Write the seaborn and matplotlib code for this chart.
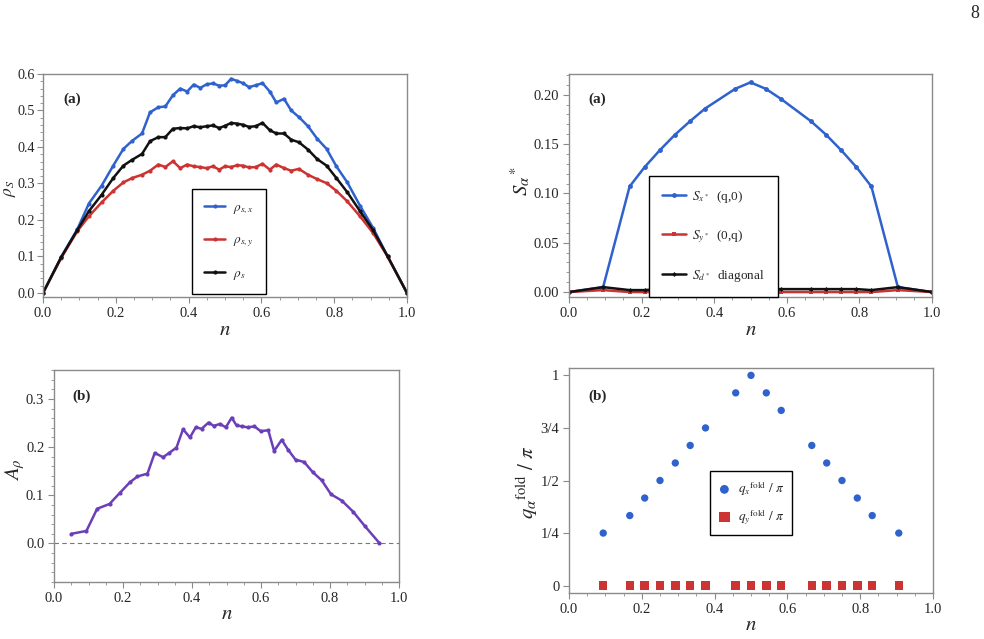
import numpy as np
import pandas as pd
import matplotlib
matplotlib.use("Agg")
import matplotlib.pyplot as plt
import seaborn as sns
from matplotlib.ticker import AutoMinorLocator, FixedLocator

# ---- data ----
# panel (a) left: superfluid stiffness vs filling
n_rho = [0.0, 0.05, 0.094, 0.126, 0.161, 0.193, 0.221, 0.245, 0.272, 0.294, 0.317,
         0.336, 0.357, 0.377, 0.396, 0.414, 0.432, 0.45, 0.467, 0.484, 0.5,
         0.517, 0.533, 0.549, 0.566, 0.584, 0.603, 0.623, 0.641, 0.662, 0.682,
         0.703, 0.728, 0.753, 0.779, 0.806, 0.836, 0.871, 0.907, 0.947, 1.0]
rho_x = [0.0, 0.099, 0.174, 0.245, 0.294, 0.349, 0.395, 0.417, 0.437, 0.495, 0.509,
         0.511, 0.542, 0.560, 0.552, 0.571, 0.562, 0.572, 0.574, 0.568, 0.569,
         0.587, 0.581, 0.575, 0.564, 0.569, 0.575, 0.552, 0.522, 0.532, 0.500,
         0.482, 0.457, 0.423, 0.395, 0.347, 0.303, 0.239, 0.178, 0.100, 0.0]
rho_y = [0.0, 0.096, 0.169, 0.210, 0.248, 0.280, 0.303, 0.315, 0.324, 0.335, 0.352,
         0.345, 0.361, 0.342, 0.352, 0.347, 0.345, 0.342, 0.347, 0.338, 0.347,
         0.345, 0.350, 0.349, 0.344, 0.345, 0.354, 0.338, 0.352, 0.342, 0.335,
         0.340, 0.324, 0.312, 0.301, 0.280, 0.251, 0.210, 0.164, 0.099, 0.0]
rho_s = [0.0, 0.098, 0.172, 0.224, 0.269, 0.315, 0.349, 0.365, 0.381, 0.416, 0.427,
         0.427, 0.450, 0.452, 0.451, 0.457, 0.454, 0.457, 0.459, 0.452, 0.458,
         0.466, 0.464, 0.461, 0.455, 0.457, 0.466, 0.446, 0.437, 0.437, 0.420,
         0.413, 0.393, 0.367, 0.349, 0.315, 0.276, 0.224, 0.172, 0.100, 0.0]

# panel (b) left: anisotropy
n_aniso = [0.05, 0.094, 0.125, 0.161, 0.191, 0.220, 0.242, 0.271, 0.292, 0.316,
           0.334, 0.355, 0.374, 0.394, 0.411, 0.428, 0.448, 0.463, 0.481, 0.498,
           0.515, 0.529, 0.545, 0.562, 0.581, 0.599, 0.621, 0.638, 0.660, 0.679,
           0.700, 0.725, 0.750, 0.776, 0.803, 0.834, 0.867, 0.901, 0.943]
a_rho = [0.020, 0.026, 0.072, 0.082, 0.105, 0.127, 0.139, 0.145, 0.188, 0.179,
         0.188, 0.199, 0.237, 0.220, 0.241, 0.238, 0.251, 0.244, 0.248, 0.241,
         0.261, 0.245, 0.243, 0.241, 0.243, 0.233, 0.235, 0.192, 0.215, 0.194,
         0.174, 0.169, 0.148, 0.131, 0.102, 0.089, 0.066, 0.036, 0.001]

# panel (a) right: structure factor peaks
n_sf = [0.0, 0.094, 0.167, 0.208, 0.25, 0.292, 0.333, 0.375, 0.458, 0.5, 0.542,
        0.583, 0.667, 0.708, 0.75, 0.792, 0.833, 0.906, 1.0]
s_x = [0.0, 0.005, 0.107, 0.1265, 0.1437, 0.1595, 0.173, 0.186, 0.206, 0.2125,
       0.206, 0.196, 0.173, 0.1595, 0.1437, 0.1265, 0.107, 0.005, 0.0]
s_y = [0.0, 0.002, 0.0, 0.0, 0.0, 0.0, 0.0, 0.0, 0.0, 0.0,
       0.0, 0.0, 0.0, 0.0, 0.0, 0.0, 0.0, 0.002, 0.0]
s_d = [0.0, 0.005, 0.002, 0.002, 0.003, 0.003, 0.003, 0.003, 0.003, 0.003,
       0.003, 0.003, 0.003, 0.003, 0.003, 0.003, 0.002, 0.005, 0.0]

# panel (b) right: folding wave vector
n_q = [0.094, 0.167, 0.208, 0.25, 0.292, 0.333, 0.375, 0.458, 0.5, 0.542,
       0.583, 0.667, 0.708, 0.75, 0.792, 0.833, 0.906]
q_x = [0.25, 0.3333, 0.4167, 0.5, 0.5833, 0.6667, 0.75, 0.9167, 1.0, 0.9167,
       0.8333, 0.6667, 0.5833, 0.5, 0.4167, 0.3333, 0.25]
q_y = [0.0] * 17
q_ticks = [0, 0.25, 0.5, 0.75, 1]
q_tick_labels = ["0", "1/4", "1/2", "3/4", "1"]

BLUE = "#2f62cc"
RED = "#cc3333"
BLACK = "#111111"
PURPLE = "#6b3fb8"
FRAME = "#8a8a8a"

sns.set_style("ticks")
plt.rcParams["font.family"] = ["Liberation Serif", "DejaVu Serif"]
plt.rcParams["mathtext.fontset"] = "stix"
plt.rcParams["font.size"] = 11

fig = plt.figure(figsize=(9.84, 6.39), dpi=100)
W, H = 984, 639


def make_ax(l, t, r, b):
    return fig.add_axes([l / W, 1 - b / H, (r - l) / W, (b - t) / H])


def style(ax, xminor=4, yminor=5, xpad=1):
    for s in ax.spines.values():
        s.set_color(FRAME)
        s.set_linewidth(1.0)
    ax.tick_params(which="both", direction="out", color=FRAME, labelsize=10.5,
                   top=False, right=False, pad=3)
    ax.tick_params(which="major", length=4)
    ax.tick_params(which="minor", length=2)
    ax.xaxis.set_minor_locator(AutoMinorLocator(xminor))
    if yminor:
        ax.yaxis.set_minor_locator(AutoMinorLocator(yminor))
    ax.set_xlim(0, 1)
    ax.set_xticks([0, 0.2, 0.4, 0.6, 0.8, 1.0])
    ax.set_xticklabels(["0.0", "0.2", "0.4", "0.6", "0.8", "1.0"])
    ax.set_xlabel(r"$n$", fontsize=15, labelpad=xpad)


def legend(ax, anchor, spacing, **kw):
    lg = ax.legend(loc="lower left", bbox_to_anchor=anchor, frameon=True,
                   fancybox=False, edgecolor="black", framealpha=1,
                   labelspacing=spacing, fontsize=9.5, **kw)
    lg.get_frame().set_linewidth(1.0)
    return lg


# ---- top left ----
ax1 = make_ax(43, 74, 407, 297)
df1 = pd.DataFrame({"n": n_rho, "rx": rho_x, "ry": rho_y, "rs": rho_s})
sns.lineplot(data=df1, x="n", y="rx", ax=ax1, color=BLUE, lw=1.8, marker="o",
             markersize=3, markeredgewidth=0, label=r"$\rho_{s,x}$")
sns.lineplot(data=df1, x="n", y="ry", ax=ax1, color=RED, lw=1.8, marker="o",
             markersize=3, markeredgewidth=0, label=r"$\rho_{s,y}$")
sns.lineplot(data=df1, x="n", y="rs", ax=ax1, color=BLACK, lw=1.8, marker="o",
             markersize=3, markeredgewidth=0, label=r"$\rho_s$")
style(ax1)
ax1.tick_params(axis="y", which="both", labelsize=10.2, pad=2)
ax1.set_ylim(-0.011, 0.6)
ax1.set_yticks(np.arange(0, 0.61, 0.1))
ax1.set_yticklabels(["0.0", "0.1", "0.2", "0.3", "0.4", "0.5", "0.6"])
ax1.set_ylabel(r"$\rho_S$", fontsize=12.5)
ax1.yaxis.set_label_coords(-0.068, 0.49)
ax1.text(0.055, 0.87, "(a)", transform=ax1.transAxes, fontweight="bold", fontsize=11)
legend(ax1, (0.41, 0.015), 1.4, handlelength=1.6, handletextpad=0.6,
       borderpad=0.9, borderaxespad=0)

# ---- top right ----
ax2 = make_ax(569, 74, 932, 297)
df2 = pd.DataFrame({"n": n_sf, "sx": s_x, "sy": s_y, "sd": s_d})
sns.lineplot(data=df2, x="n", y="sx", ax=ax2, color=BLUE, lw=1.8, marker="o",
             markersize=3.5, markeredgewidth=0, label=r"$S_{x^*}$  (q,0)")
sns.lineplot(data=df2, x="n", y="sy", ax=ax2, color=RED, lw=1.8, marker="s",
             markersize=3, markeredgewidth=0, label=r"$S_{y^*}$  (0,q)")
sns.lineplot(data=df2, x="n", y="sd", ax=ax2, color=BLACK, lw=1.8, marker="D",
             markersize=2.5, markeredgewidth=0, label=r"$S_{d^*}$  diagonal")
style(ax2)
ax2.set_ylim(-0.005, 0.221)
ax2.set_yticks([0, 0.05, 0.10, 0.15, 0.20])
ax2.set_yticklabels(["0.00", "0.05", "0.10", "0.15", "0.20"])
ax2.set_ylabel(r"$S_\alpha{}^*$", fontsize=15)
ax2.yaxis.set_label_coords(-0.1, 0.52)
ax2.text(0.052, 0.87, "(a)", transform=ax2.transAxes, fontweight="bold", fontsize=11)
legend(ax2, (0.22, 0.0), 1.75, handlelength=1.8, handletextpad=0.5,
       borderpad=1.0, borderaxespad=0)

# ---- bottom left ----
ax3 = make_ax(54, 370, 399, 582)
df3 = pd.DataFrame({"n": n_aniso, "a": a_rho})
ax3.axhline(0, color="#777777", lw=0.8, ls=(0, (4, 3)))
sns.lineplot(data=df3, x="n", y="a", ax=ax3, color=PURPLE, lw=1.8, marker="o",
             markersize=3, markeredgewidth=0)
style(ax3, xpad=0)
ax3.set_ylim(-0.08, 0.36)
ax3.set_yticks([0, 0.1, 0.2, 0.3])
ax3.set_yticklabels(["0.0", "0.1", "0.2", "0.3"])
ax3.set_ylabel(r"$A_\rho$", fontsize=15)
ax3.yaxis.set_label_coords(-0.078, 0.53)
ax3.text(0.052, 0.86, "(b)", transform=ax3.transAxes, fontweight="bold", fontsize=11)

# ---- bottom right ----
ax4 = make_ax(569, 368, 933, 593)
df4 = pd.DataFrame({"n": n_q, "qx": q_x, "qy": q_y})
sns.scatterplot(data=df4, x="n", y="qx", ax=ax4, color=BLUE, s=28, marker="o",
                edgecolor="none", label=r"$q_x{}^{\mathrm{fold}}\ /\ \pi$", zorder=3)
sns.scatterplot(data=df4, x="n", y="qy", ax=ax4, color=RED, s=38, marker="s",
                edgecolor="none", label=r"$q_y{}^{\mathrm{fold}}\ /\ \pi$", zorder=3)
style(ax4, yminor=0, xpad=0)
ax4.set_ylim(-0.035, 1.035)
ax4.yaxis.set_major_locator(FixedLocator(q_ticks))
ax4.set_yticklabels(q_tick_labels)
ax4.set_ylabel(r"$q_\alpha{}^{\mathrm{fold}}\ /\ \pi$", fontsize=15)
ax4.yaxis.set_label_coords(-0.08, 0.49)
ax4.text(0.052, 0.86, "(b)", transform=ax4.transAxes, fontweight="bold", fontsize=11)
legend(ax4, (0.387, 0.26), 0.7, handlelength=1.0, handletextpad=0.5,
       borderpad=0.6, borderaxespad=0, markerscale=1.2)

fig.text(970 / W, 1 - 18 / H, "8", fontsize=13)

fig.savefig("out.png", dpi=100)
